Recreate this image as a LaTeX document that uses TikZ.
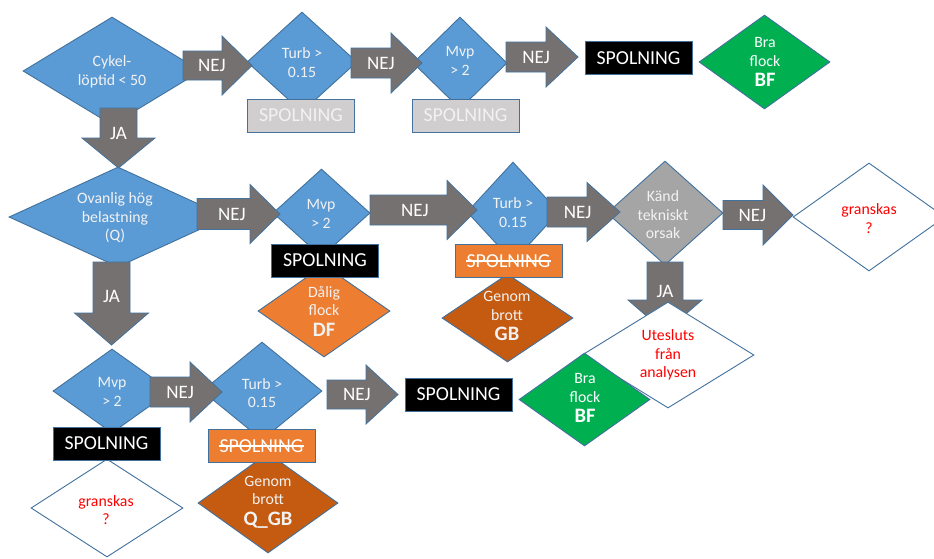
\documentclass[tikz,border=0pt]{standalone}
\usepackage{fontspec}
\setmainfont{Carlito}
\usetikzlibrary{shapes.geometric}
\definecolor{cblue}{HTML}{5B9BD5}
\definecolor{cline}{HTML}{41719C}
\definecolor{carrow}{HTML}{767171}
\definecolor{cgreybox}{HTML}{D0CECE}
\definecolor{cgreydia}{HTML}{A5A5A5}
\definecolor{corange}{HTML}{ED7D31}
\definecolor{cdorange}{HTML}{C55A11}
\definecolor{cgreen}{HTML}{00B050}
\definecolor{cred}{HTML}{FF0000}
\definecolor{ctxt}{HTML}{F2F2F2}
\tikzset{
 dia/.style={diamond, draw=cline, line width=0.9pt, inner sep=0pt, aspect=1},
 dtext/.style={align=center, text=ctxt, font=\fontsize{15.8}{18.5}\selectfont, inner sep=0pt},
 rtext/.style={align=center, text=cred, font=\fontsize{15.8}{18.5}\selectfont, inner sep=0pt},
 sbox/.style={rectangle, draw=cline, line width=0.9pt, minimum width=107pt, minimum height=33pt, inner sep=0pt, text=white, font=\fontsize{19.8}{22}\selectfont},
 stext/.style={inner sep=0pt, text=white, font=\fontsize{19.8}{22}\selectfont},
 strike/.style={white, line width=1.1pt},
 arrowbody/.style={fill=carrow, draw=cline, line width=0.8pt},
 arrlabel/.style={text=white, font=\fontsize{19}{22}\selectfont, inner sep=0pt},
}
\newcommand{\dmd}[6]{\node[dia, fill=#6, minimum width={2*#4}, minimum height={2*#5}] (#1) at (#2,#3) {};}
\newcommand{\blkR}[8]{%
 \path[arrowbody] (#2,{#5-#6}) -- (#3,{#5-#6}) -- (#3,{#5-#7}) -- (#4,#5) -- (#3,{#5+#7}) -- (#3,{#5+#6}) -- (#2,{#5+#6}) -- cycle;
 \node[arrlabel] (#1) at ({#2+0.42*(#4-#2)},#5) {#8};}
\newcommand{\blkD}[8]{%
 \path[arrowbody] ({#2-#6},#3) -- ({#2+#6},#3) -- ({#2+#6},#4) -- ({#2+#7},#4) -- (#2,#5) -- ({#2-#7},#4) -- ({#2-#6},#4) -- cycle;
 \node[arrlabel] (#1) at (#2,{#3+0.42*(#5-#3)}) {#8};}
\newcommand{\bigtag}[1]{\fontsize{20.5}{22}\selectfont\bfseries #1}
\begin{document}
\begin{tikzpicture}[x=1pt,y=-1pt]
\useasboundingbox[fill=white] (0,0) rectangle (934,558);
% diamonds
\dmd{cykel}{112}{71}{89}{54}{cblue}
\dmd{turbA}{302}{62}{55}{50}{cblue}
\dmd{mvpA}{460}{63}{47}{46}{cblue}
\dmd{bfA}{764.5}{62}{65.5}{47}{cgreen}
\dmd{ovan}{118}{217}{109}{50}{cblue}
\dmd{mvpB}{321.5}{213}{48.5}{44}{cblue}
\dmd{df}{324}{311}{66}{46}{corange}
\dmd{turbB}{513}{212}{46}{50}{cblue}
\dmd{gb}{507.5}{318}{65.5}{44}{cdorange}
\dmd{kand}{665}{213}{58}{52}{cgreydia}
\dmd{gransA}{869}{217}{76}{54}{white}
\dmd{mvpC}{112}{391}{59}{42}{cblue}
\dmd{gransB}{107}{508}{76}{49}{white}
\dmd{turbC}{262}{391}{60}{49}{cblue}
\dmd{qgb}{268}{503}{70}{50}{cdorange}
% diamond texts
\node[dtext] (cykelt) at (112,72) {Cykel-\\löptid < 50};
\node[dtext] (turbAt) at (302,62.5) {Turb >\\0.15};
\node[dtext] (mvpAt) at (460,61) {Mvp\\> 2};
\node[dtext, text=white] (bfAt) at (765,62) {Bra\\flock\\[2pt]\bigtag{BF}};
\node[dtext] (ovant) at (115,218) {Ovanlig hög\\belastning\\(Q)};
\node[dtext] (mvpBt) at (321,214) {Mvp\\> 2};
\node[dtext] (dft) at (324,311) {Dålig\\flock\\[2pt]\bigtag{DF}};
\node[dtext] (turbBt) at (513,212.5) {Turb >\\0.15};
\node[dtext] (gbt) at (507,316) {Genom\\brott\\[2pt]\bigtag{GB}};
\node[dtext] (kandt) at (663,215) {Känd\\tekniskt\\orsak};
\node[rtext] (gransAt) at (869,218.5) {granskas\\?};
\node[dtext] (mvpCt) at (112,392) {Mvp\\> 2};
\node[rtext] (gransBt) at (106,510) {granskas\\?};
\node[dtext] (turbCt) at (262,393) {Turb >\\0.15};
\node[dtext] (qgbt) at (268,502) {Genom\\brott\\[2pt]\bigtag{Q\_GB}};
% boxes
\node[sbox, fill=cgreybox, text=ctxt] (spA) at (301,115.5) {SPOLNING};
\node[sbox, fill=cgreybox, text=ctxt] (spB) at (465.5,115.5) {SPOLNING};
\node[sbox, fill=black] (spC) at (638.5,58) {SPOLNING};
\node[sbox, fill=black] (spD) at (325,260.5) {SPOLNING};
\node[sbox, fill=corange] (spE) at (508.5,261) {};
\node[stext] (spEt) at (spE) {SPOLNING};
\draw[strike] (spEt.west) -- (spEt.east);
\node[sbox, fill=black] (spF) at (106.5,443.5) {SPOLNING};
\node[sbox, fill=corange] (spG) at (261.5,446) {};
\node[stext] (spGt) at (spG) {SPOLNING};
\draw[strike] (spGt.west) -- (spGt.east);
\node[sbox, fill=black] (spH) at (458.5,394.5) {SPOLNING};
% arrows
\blkR{nA}{183}{222}{252}{65.5}{14.5}{29.5}{NEJ}
\blkR{nB}{351}{391}{422}{63}{15}{30}{NEJ}
\blkR{nC}{506}{546}{578}{57}{15}{30}{NEJ}
\blkR{nD}{197}{250}{280}{214}{15.5}{29.5}{NEJ}
\blkR{nE}{370}{447}{477}{210}{15}{29.5}{NEJ}
\blkR{nF}{547}{587}{620}{212}{15}{29.5}{NEJ}
\blkR{nG}{723}{763}{793}{215}{14.5}{30}{NEJ}
\blkR{nH}{150}{190}{222}{392}{15}{30}{NEJ}
\blkR{nI}{327}{366}{398}{394.5}{14.5}{29.5}{NEJ}
\blkD{jA}{118.5}{108}{138}{168}{18.5}{36.5}{JA}
\blkD{jB}{111.5}{262}{313}{345}{18.5}{37}{JA}
\blkD{jC}{665}{262}{300}{332}{18}{37}{JA}
% overlapping diamonds
\dmd{utes}{668}{355}{86}{53}{white}
\node[rtext] (utest) at (668,355) {Utesluts\\från\\analysen};
\dmd{bfB}{584.5}{399.5}{65.5}{46.5}{cgreen}
\node[dtext, text=white] (bfBt) at (585,398) {Bra\\flock\\[2pt]\bigtag{BF}};
\end{tikzpicture}
\end{document}
